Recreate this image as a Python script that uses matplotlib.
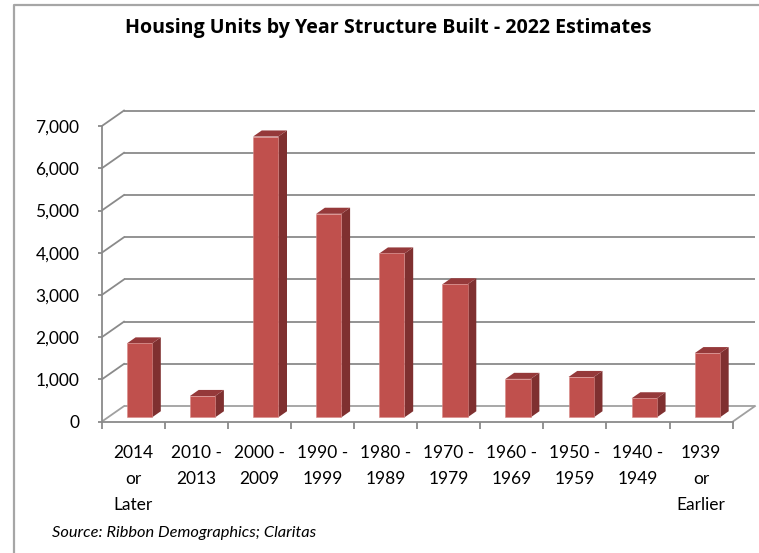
import matplotlib
matplotlib.use("Agg")
import matplotlib.pyplot as plt
from matplotlib.patches import Polygon
from matplotlib.lines import Line2D

categories = ["2014\nor\nLater", "2010 -\n2013", "2000 -\n2009", "1990 -\n1999",
              "1980 -\n1989", "1970 -\n1979", "1960 -\n1969", "1950 -\n1959",
              "1940 -\n1949", "1939\nor\nEarlier"]
values = [1750, 505, 6650, 4820, 3880, 3150, 910, 955, 450, 1520]
yticks = [0, 1000, 2000, 3000, 4000, 5000, 6000, 7000]
ytick_labels = ["0", "1,000", "2,000", "3,000", "4,000", "5,000", "6,000", "7,000"]
title = "Housing Units by Year Structure Built - 2022 Estimates"
source = "Source: Ribbon Demographics; Claritas"

FONT = ["Lato", "DejaVu Sans"]
plt.rcParams['font.family'] = FONT

W, H = 759, 553
fig = plt.figure(figsize=(W / 100, H / 100), dpi=100)
ax = fig.add_axes([101.7 / W, (H - 421.7) / H, 656.2 / W, 316.7 / H])
ax.set_xlim(0, 10.4)
ax.set_ylim(0, 7500)

# oblique depth offsets (in data units)
DX = 0.3534
DY = 369
n = len(values)
grid_c = "#8a8a8a"
floor_c = "#a0a0a0"

# back wall gridlines and side wall diagonals
for v in yticks:
    ax.add_line(Line2D([DX, n + DX], [v + DY, v + DY], color=grid_c if v else floor_c,
                       lw=1.3, zorder=1, solid_capstyle='butt'))
    ax.add_line(Line2D([0, DX], [v, v + DY], color=grid_c if v else floor_c,
                       lw=1.3, zorder=1))
# floor right edge
ax.add_line(Line2D([n, n + DX], [0, DY], color=floor_c, lw=1.3, zorder=1))

# bars
front_c = "#C0504D"
side_c = "#7F3030"
top_c = "#95393A"
d0, d1 = 0.28, 0.67
bw = 0.4
for i, v in enumerate(values):
    x0 = i + 0.5 - bw / 2
    x1 = i + 0.5 + bw / 2
    fx0, fx1 = x0 + d0 * DX, x1 + d0 * DX
    fy = d0 * DY
    bx1 = x1 + d1 * DX
    bx0 = x0 + d1 * DX
    by = d1 * DY
    ax.add_patch(Polygon([(fx1, fy), (bx1, by), (bx1, v + by), (fx1, v + fy)],
                         closed=True, facecolor=side_c, edgecolor='none', zorder=3))
    ax.add_patch(Polygon([(fx0, v + fy), (fx1, v + fy), (bx1, v + by), (bx0, v + by)],
                         closed=True, facecolor=top_c, edgecolor='none', zorder=3))
    ax.add_patch(Polygon([(fx0, fy), (fx1, fy), (fx1, v + fy), (fx0, v + fy)],
                         closed=True, facecolor=front_c, edgecolor='#d88a88', lw=0.4, zorder=4))

# axes spines
for s in ["top", "right"]:
    ax.spines[s].set_visible(False)
ax.spines["left"].set_bounds(0, 7000)
ax.spines["bottom"].set_bounds(0, n)
for s in ["left", "bottom"]:
    ax.spines[s].set_color(grid_c)
    ax.spines[s].set_linewidth(1.3)
ax.set_facecolor('none')

ax.set_yticks(yticks)
ax.set_yticklabels(ytick_labels)
ax.tick_params(axis='y', length=3, width=1.3, color=grid_c, pad=13,
               labelsize=12.5, labelcolor='black')

ax.set_xticks(range(n + 1))
ax.set_xticklabels([])
ax.set_xticks([i + 0.5 for i in range(n)], minor=True)
ax.set_xticklabels(categories, minor=True, linespacing=1.78)
ax.tick_params(axis='x', which='major', length=5, width=1.3, color=grid_c)
ax.tick_params(axis='x', which='minor', length=0, pad=16.5, labelsize=12.5,
               labelcolor='black')

fig.text(388 / W, 1 - 18 / H, title, ha='center', va='top', fontsize=14.1,
         fontweight='bold', family=["Open Sans", "DejaVu Sans"])
fig.text(52 / W, (H - 537) / H, source, ha='left', va='baseline', fontsize=11.8,
         style='italic')

# chart border (left and top visible)
fig.add_artist(Line2D([14 / W, 14 / W, 1.0], [0, 1 - 5 / H, 1 - 5 / H],
                      transform=fig.transFigure, color="#a6a6a6", lw=1.6))

fig.savefig("out.png", dpi=100)
